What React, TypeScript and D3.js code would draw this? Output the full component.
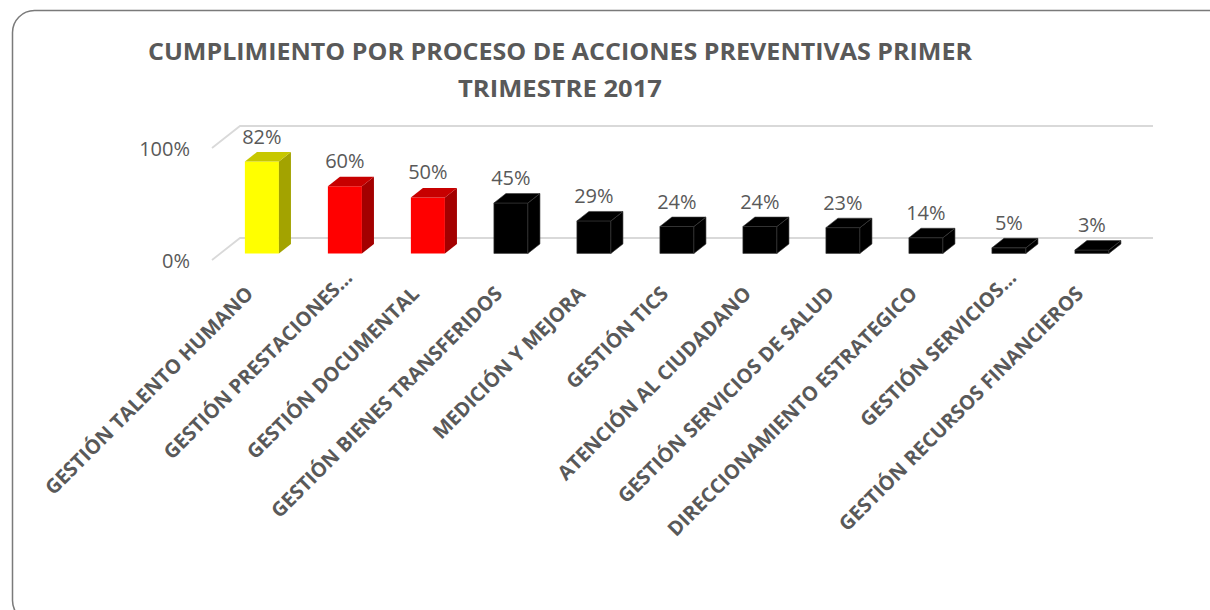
import React from "react";
import * as d3 from "d3";

const categories = [
  "GESTIÓN TALENTO HUMANO",
  "GESTIÓN PRESTACIONES...",
  "GESTIÓN DOCUMENTAL",
  "GESTIÓN BIENES TRANSFERIDOS",
  "MEDICIÓN Y MEJORA",
  "GESTIÓN TICS",
  "ATENCIÓN AL CIUDADANO",
  "GESTIÓN SERVICIOS DE SALUD",
  "DIRECCIONAMIENTO ESTRATEGICO",
  "GESTIÓN SERVICIOS...",
  "GESTIÓN RECURSOS FINANCIEROS",
];
const values = [0.82, 0.6, 0.5, 0.45, 0.29, 0.24, 0.24, 0.23, 0.14, 0.05, 0.03];
const yTicks = [0, 1];
const titleLines = [
  "CUMPLIMIENTO POR PROCESO DE ACCIONES PREVENTIVAS PRIMER",
  "TRIMESTRE 2017",
];
const titleWidths = [824, 204];
const barPalette = [
  "#FFFF00",
  "#FF0000",
  "#FF0000",
  "#000000",
  "#000000",
  "#000000",
  "#000000",
  "#000000",
  "#000000",
  "#000000",
  "#000000",
];

const W = 1210;
const H = 610;
const plotLeft = 212;
const plotRight = 1125;
const floorY = 260;
const depthX = 28;
const depthY = -22;
const tFront = 0.3;
const tBack = 0.73;
const FONT = "'Open Sans', Calibri, sans-serif";
const TEXT = "#595959";

const x = d3.scaleBand<string>().domain(categories).range([plotLeft, plotRight]).padding(0);
const y = d3.scaleLinear().domain([0, 1]).range([floorY, floorY - 112]);
const color = d3.scaleOrdinal<string, string>().domain(categories).range(barPalette);
const fmt = d3.format(".0%");

const pt = (px: number, v: number, t: number): [number, number] => [
  px + t * depthX,
  y(v) + t * depthY,
];

const shade = (c: string, k: number) => {
  const col = d3.rgb(c);
  return d3.rgb(col.r * k, col.g * k, col.b * k).formatHex();
};

export default function App() {
  const bw = x.bandwidth() * 0.41;
  const poly = (pts: [number, number][]) => "M" + pts.map((p) => p.join(",")).join("L") + "Z";

  return (
    <svg
      width={W}
      height={H}
      style={{ position: "absolute", left: 0, top: 0, display: "block" }}
      fontFamily={FONT}
    >
      <rect x={0} y={0} width={W} height={H} fill="#FFFFFF" />
      <rect
        x={12.5}
        y={10.5}
        width={1230}
        height={612}
        rx={22}
        ry={22}
        fill="#FFFFFF"
        stroke="#7A7A7A"
        strokeWidth={1.5}
      />
      {titleLines.map((t, i) => (
        <text
          key={t}
          x={560}
          y={60 + i * 37}
          textAnchor="middle"
          fontSize={23}
          fontWeight="bold"
          fill={TEXT}
          textLength={titleWidths[i]}
          lengthAdjust="spacingAndGlyphs"
        >
          {t}
        </text>
      ))}
      {yTicks.map((v) => {
        const a = pt(plotLeft, v, 0);
        const b = pt(plotLeft, v, 1);
        const c = pt(plotRight, v, 1);
        return (
          <g key={v}>
            <path
              d={`M${a[0]},${a[1]}L${b[0]},${b[1]}L${c[0]},${c[1]}`}
              fill="none"
              stroke="#D9D9D9"
              strokeWidth={1.8}
            />
            <text x={190} y={y(v) + 7.5} textAnchor="end" fontSize={20} fill={TEXT}>
              {fmt(v)}
            </text>
          </g>
        );
      })}
      {categories.map((cat, i) => {
        const v = values[i];
        const bc = (x(cat) as number) + x.bandwidth() / 2;
        const x0 = bc - bw / 2;
        const x1 = bc + bw / 2;
        const c = color(cat);
        const isBlack = c === "#000000";
        const front = poly([pt(x0, 0, tFront), pt(x0, v, tFront), pt(x1, v, tFront), pt(x1, 0, tFront)]);
        const side = poly([pt(x1, 0, tFront), pt(x1, v, tFront), pt(x1, v, tBack), pt(x1, 0, tBack)]);
        const top = poly([pt(x0, v, tFront), pt(x1, v, tFront), pt(x1, v, tBack), pt(x0, v, tBack)]);
        const stroke = isBlack ? "#3A3A3A" : "none";
        const lbl = pt(bc, v, tFront);
        return (
          <g key={cat}>
            <path d={front} fill={c} stroke={stroke} strokeWidth={0.6} />
            <path d={side} fill={isBlack ? c : shade(c, 0.64)} stroke={stroke} strokeWidth={0.6} />
            <path d={top} fill={isBlack ? c : shade(c, 0.78)} stroke={stroke} strokeWidth={0.6} />
            <text x={lbl[0]} y={lbl[1] - 18} textAnchor="middle" fontSize={20} fill={TEXT}>
              {fmt(v)}
            </text>
          </g>
        );
      })}
      {categories.map((cat) => {
        const bc = (x(cat) as number) + x.bandwidth() / 2;
        const trunc = cat.endsWith("...") ? 16 : 0;
        return (
          <text
            key={"l" + cat}
            transform={`translate(${bc + 1 + trunc},${295 - trunc}) rotate(-45)`}
            textAnchor="end"
            fontSize={20}
            fontWeight="bold"
            fill={TEXT}
          >
            {cat}
          </text>
        );
      })}
    </svg>
  );
}
